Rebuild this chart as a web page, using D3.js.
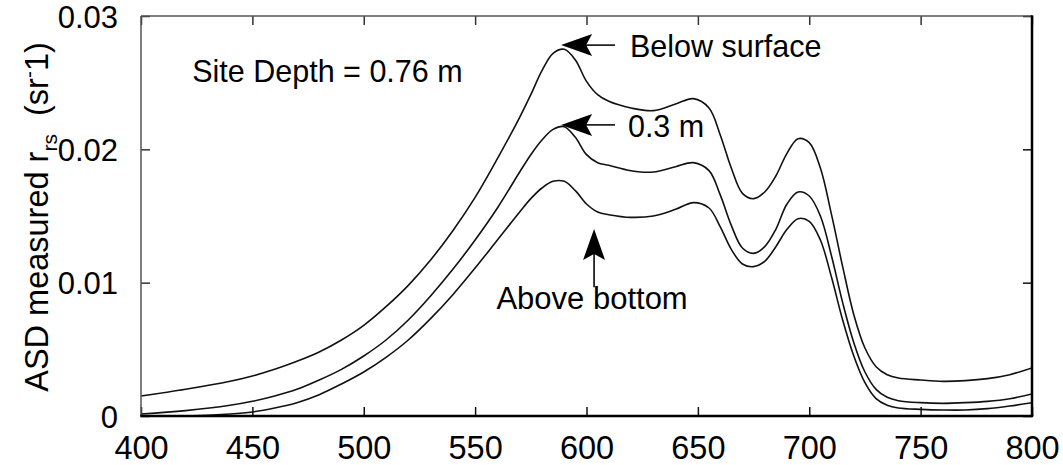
<!DOCTYPE html>
<html>
<head>
<meta charset="utf-8">
<script src="https://cdn.jsdelivr.net/npm/d3@7"></script>
<style>
  html, body { margin: 0; padding: 0; background: #fff; }
  svg { display: block; }
  text { font-family: "Liberation Sans", Arial, Helvetica, sans-serif; fill: #000; }
</style>
</head>
<body>
<svg id="chart" width="1063" height="465"></svg>
<script>
// ---------------- data ----------------
const wavelengths = [400,420,440,450,460,470,480,490,500,510,520,530,540,550,560,570,575,580,585,590,595,600,605,610,620,630,640,648,655,660,665,670,675,680,685,690,695,700,705,710,715,720,725,730,735,740,750,760,770,780,790,800];

const belowSurface = [1.5,2.0,2.6,3.0,3.5,4.1,4.8,5.7,6.8,8.2,9.8,11.7,13.9,16.4,19.3,22.4,24.1,25.9,27.2,27.5,26.7,25.1,24.1,23.6,23.1,22.9,23.4,23.8,23.1,21.1,18.6,16.7,16.3,16.8,18.0,19.7,20.8,20.5,18.6,15.1,11.2,7.6,5.1,3.7,3.1,2.85,2.7,2.6,2.65,2.8,3.1,3.6];

const at03m = [0.15,0.4,0.8,1.1,1.5,2.0,2.7,3.5,4.5,5.7,7.2,9.0,11.0,13.2,15.6,18.3,19.6,20.7,21.5,21.7,20.9,19.6,19.0,18.8,18.4,18.3,18.7,19.0,18.4,16.6,14.3,12.6,12.2,12.7,14.0,15.9,16.8,16.5,15.0,12.0,8.5,5.5,3.3,2.0,1.4,1.15,1.0,0.95,1.0,1.1,1.3,1.65];

const aboveBottom = [0.0,0.0,0.15,0.3,0.6,1.0,1.6,2.4,3.3,4.4,5.7,7.3,9.1,11.1,13.2,15.3,16.3,17.1,17.6,17.6,16.9,15.9,15.3,15.1,14.9,15.0,15.5,16.0,15.6,14.2,12.5,11.4,11.2,11.6,12.7,14.0,14.8,14.6,13.2,10.4,7.2,4.5,2.5,1.3,0.8,0.6,0.5,0.45,0.45,0.55,0.75,1.0];

const seriesNames = ["Below surface", "0.3 m", "Above bottom"];
const seriesValues = [belowSurface, at03m, aboveBottom];
const valueScaleFactor = 1e-3;

const xTicks = [400,450,500,550,600,650,700,750,800];
const yTicks = [0,0.01,0.02,0.03];
const yTickLabels = ["0","0.01","0.02","0.03"];

const siteLabel = "Site Depth = 0.76 m";
const annotations = [
  {text: "Below surface", tip: [588.6, 0.02782], tail: [612.8, 0.02782], pos: [619.5, 0.02693], anchor: "start"},
  {text: "0.3 m",         tip: [588.6, 0.02183], tail: [612.8, 0.02183], pos: [618.6, 0.02093], anchor: "start"},
  {text: "Above bottom",  tip: [603.4, 0.01403], tail: [603.4, 0.00965], pos: [602.5, 0.00800], anchor: "middle"}
];
const sitePos = [423.0, 0.02505];

// ---------------- layout ----------------
const svg = d3.select("#chart");
const margin = {left: 141, top: 16, right: 31, bottom: 49};
const W = 1063, H = 465;
const x = d3.scaleLinear().domain([400, 800]).range([margin.left, W - margin.right]);
const y = d3.scaleLinear().domain([0, 0.03]).range([H - margin.bottom, margin.top]);

const FS = 30.5;
const TICK_FS = 32.5;

const line = d3.line()
  .x(d => x(d[0]))
  .y(d => y(d[1]))
  .curve(d3.curveCatmullRom.alpha(0.5));

const plot = svg.append("g");
plot.append("defs").append("clipPath").attr("id", "clip")
  .append("rect").attr("x", x(400)).attr("y", y(0.03)).attr("width", x(800) - x(400)).attr("height", y(0) - y(0.03));

seriesValues.forEach((vals) => {
  const pts = wavelengths.map((w, i) => [w, vals[i] * valueScaleFactor]);
  plot.append("path")
    .attr("d", line(pts))
    .attr("fill", "none")
    .attr("stroke", "#111")
    .attr("stroke-width", 1.6)
    .attr("clip-path", "url(#clip)");
});

// axes (box with inward ticks)
const tickLen = 9;
const axB = d3.axisBottom(x).tickValues(xTicks).tickSize(-tickLen).tickFormat(d3.format("d")).tickPadding(20);
const axT = d3.axisTop(x).tickValues(xTicks).tickSize(-tickLen).tickFormat("");
const axL = d3.axisLeft(y).tickValues(yTicks).tickSize(-tickLen).tickFormat((d, i) => yTickLabels[i]).tickPadding(23);
const axR = d3.axisRight(y).tickValues(yTicks).tickSize(-tickLen).tickFormat("");

function style(g, col) {
  g.select(".domain").remove();
  g.selectAll(".tick line").attr("stroke", col).attr("stroke-width", 1.5);
  g.selectAll(".tick text").attr("font-size", TICK_FS).attr("font-family", "Liberation Sans, Arial, sans-serif").attr("fill", "#000");
}
const gB = svg.append("g").attr("transform", `translate(0,${y(0)})`).call(axB); style(gB, "#111");
const gT = svg.append("g").attr("transform", `translate(0,${y(0.03)})`).call(axT); style(gT, "#333");
const gL = svg.append("g").attr("transform", `translate(${x(400)},0)`).call(axL); style(gL, "#333");
const gR = svg.append("g").attr("transform", `translate(${x(800)},0)`).call(axR); style(gR, "#111");
gB.selectAll(".tick text").attr("dy", "0.71em");
gL.selectAll(".tick text").attr("dy", "0.36em").attr("font-size", 31);

// frame
svg.append("line").attr("x1", x(400)).attr("x2", x(800)).attr("y1", y(0.03)).attr("y2", y(0.03)).attr("stroke", "#555").attr("stroke-width", 1.5);
svg.append("line").attr("x1", x(400)).attr("x2", x(400)).attr("y1", y(0.03)).attr("y2", y(0)).attr("stroke", "#555").attr("stroke-width", 1.5);
svg.append("line").attr("x1", x(400) - 0.75).attr("x2", x(800) + 1.25).attr("y1", y(0)).attr("y2", y(0)).attr("stroke", "#000").attr("stroke-width", 2.5);
svg.append("line").attr("x1", x(800)).attr("x2", x(800)).attr("y1", y(0.03) - 0.75).attr("y2", y(0)).attr("stroke", "#000").attr("stroke-width", 2.5);

// y label
const yl = svg.append("text")
  .attr("transform", `translate(48,${(y(0) + y(0.03)) / 2 + 1}) rotate(-90)`)
  .attr("text-anchor", "middle")
  .attr("font-size", 32.5);
yl.append("tspan").text("ASD measured r");
yl.append("tspan").attr("font-size", 21).attr("dy", 9).text("rs");
yl.append("tspan").attr("dy", -9).text("\u00a0\u00a0(sr");
yl.append("tspan").attr("font-size", 21).attr("dy", -12).text("-");
yl.append("tspan").attr("dy", 12).text("1)");

// site label
svg.append("text").attr("x", x(sitePos[0])).attr("y", y(sitePos[1]))
  .attr("font-size", FS).text(siteLabel);

// arrows
function arrowHead(tip, tail) {
  const [tx, ty] = [x(tip[0]), y(tip[1])];
  const [sx, sy] = [x(tail[0]), y(tail[1])];
  const ang = Math.atan2(ty - sy, tx - sx);
  const L = 31, Wd = 11, notch = 25;
  const p = (d, off) => [tx - d * Math.cos(ang) - off * Math.sin(ang), ty - d * Math.sin(ang) + off * Math.cos(ang)];
  const a = p(L, Wd), b = p(notch, 0), c = p(L, -Wd);
  return `M${tx},${ty}L${a[0]},${a[1]}L${b[0]},${b[1]}L${c[0]},${c[1]}Z`;
}
annotations.forEach(a => {
  const horiz = a.tip[1] === a.tail[1];
  svg.append("line")
    .attr("x1", x(a.tail[0])).attr("y1", y(a.tail[1]))
    .attr("x2", x(a.tip[0]) + (horiz ? 20 : 0))
    .attr("y2", y(a.tip[1]) + (horiz ? 0 : 20))
    .attr("stroke", "#222").attr("stroke-width", 1.8);
  svg.append("path").attr("d", arrowHead(a.tip, a.tail)).attr("fill", "#000");
  svg.append("text").attr("x", x(a.pos[0])).attr("y", y(a.pos[1]))
    .attr("text-anchor", a.anchor).attr("font-size", a.anchor === "middle" ? 31 : FS).text(a.text);
});
</script>
</body>
</html>
